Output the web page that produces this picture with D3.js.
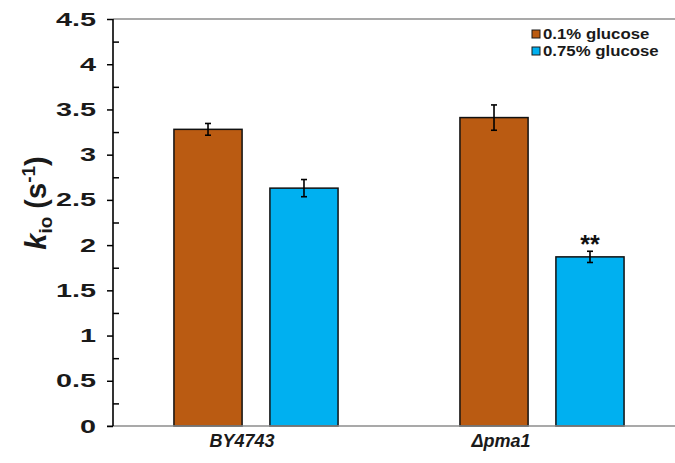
<!DOCTYPE html>
<html>
<head>
<meta charset="utf-8">
<script src="https://cdn.jsdelivr.net/npm/d3@7"></script>
<style>
  html, body { margin: 0; padding: 0; background: #fff; }
  svg { display: block; font-family: Arial, "Liberation Sans", sans-serif; }
</style>
</head>
<body>
<svg id="chart" width="675" height="463"></svg>
<script>
// Strains on the x axis and the two glucose conditions
const strains = ["BY4743", "\u0394pma1"];
const conditions = ["0.1% glucose", "0.75% glucose"];
// k_io means (s^-1) per condition, in strain order
const lowGlucose = [3.28, 3.41];
const highGlucose = [2.63, 1.87];
// Error bar half-widths
const lowGlucoseErr = [0.065, 0.14];
const highGlucoseErr = [0.095, 0.062];
// Significance marks per strain for the 0.75% glucose bars
const highGlucoseSig = ["", "**"];
// Y axis ticks
const yMajorTicks = [0, 0.5, 1, 1.5, 2, 2.5, 3, 3.5, 4, 4.5];
const yMinorTicks = [0.25, 0.75, 1.25, 1.75, 2.25, 2.75, 3.25, 3.75, 4.25];

const colors = ["#BA5B12", "#00B0F0"];

const svg = d3.select("#chart");
const plotLeft = 113, plotTop = 19, plotBottom = 426, plotRight = 685;

const y = d3.scaleLinear().domain([0, 4.5]).range([plotBottom, plotTop]);
const x0 = d3.scaleBand().domain(strains).range([plotLeft, plotRight]).padding(0);
const x1 = d3.scaleBand().domain(conditions).range([0, x0.bandwidth()])
  .paddingInner(0.29).paddingOuter(0.635);

const series = [
  { name: conditions[0], values: lowGlucose, errs: lowGlucoseErr, sig: ["", ""] },
  { name: conditions[1], values: highGlucose, errs: highGlucoseErr, sig: highGlucoseSig }
];

// Top frame line (grey)
svg.append("line").attr("x1", plotLeft).attr("x2", 675).attr("y1", plotTop).attr("y2", plotTop)
  .attr("stroke", "#8c8c8c").attr("stroke-width", 1.5);

// Bars
series.forEach((s, si) => {
  const g = svg.append("g");
  g.selectAll("rect").data(s.values).join("rect")
    .attr("x", (d, i) => x0(strains[i]) + x1(s.name))
    .attr("y", d => y(d))
    .attr("width", x1.bandwidth())
    .attr("height", d => y(0) - y(d))
    .attr("fill", colors[si])
    .attr("stroke", "#111").attr("stroke-width", 1.5);

  // error bars
  s.values.forEach((v, i) => {
    const cx = x0(strains[i]) + x1(s.name) + x1.bandwidth() / 2;
    const e = s.errs[i];
    g.append("line").attr("x1", cx).attr("x2", cx)
      .attr("y1", y(v + e)).attr("y2", y(v - e))
      .attr("stroke", "#000").attr("stroke-width", 1.6);
    [v + e, v - e].forEach(t => {
      g.append("line").attr("x1", cx - 3).attr("x2", cx + 3)
        .attr("y1", y(t)).attr("y2", y(t))
        .attr("stroke", "#000").attr("stroke-width", 1.6);
    });
    if (s.sig[i]) {
      g.append("text").attr("x", cx).attr("y", y(v + e) + 2)
        .attr("text-anchor", "middle").attr("font-weight", "bold")
        .attr("font-size", 25).attr("fill", "#111").text(s.sig[i]);
    }
  });
});

// X axis baseline (grey)
svg.append("line").attr("x1", plotLeft - 6).attr("x2", 675).attr("y1", plotBottom).attr("y2", plotBottom)
  .attr("stroke", "#8c8c8c").attr("stroke-width", 1.5);

// Y axis: major ticks outside, minor ticks inside
const yAxis = d3.axisLeft(y).tickValues(yMajorTicks).tickSize(6).tickFormat("");
const ga = svg.append("g").attr("transform", `translate(${plotLeft},0)`).call(yAxis);
ga.select(".domain").attr("stroke", "#000").attr("stroke-width", 1.6).attr("d", `M0,${plotTop}V${plotBottom}`);
ga.selectAll(".tick line").attr("stroke", "#000").attr("stroke-width", 1.5);

const yMinor = d3.axisRight(y).tickValues(yMinorTicks).tickSize(6).tickFormat("");
const gm = svg.append("g").attr("transform", `translate(${plotLeft},0)`).call(yMinor);
gm.select(".domain").remove();
gm.selectAll(".tick line").attr("stroke", "#000").attr("stroke-width", 1.5);

// Tick labels (wide bold numerals)
const fmt = d3.format("~g");
svg.append("g").selectAll("text").data(yMajorTicks).join("text")
  .attr("transform", d => `translate(96,${y(d) + 6.5}) scale(1.6,1)`)
  .attr("text-anchor", "end").attr("font-weight", "bold").attr("font-size", 18)
  .attr("fill", "#1a1a1a").text(d => fmt(d));

// X category labels
const labelShift = [-14, -41];
svg.append("g").selectAll("text").data(strains).join("text")
  .attr("x", (d, i) => x0(d) + x0.bandwidth() / 2 + labelShift[i])
  .attr("y", 447)
  .attr("text-anchor", "middle").attr("font-weight", "bold").attr("font-style", "italic")
  .attr("font-size", 18).attr("fill", "#1a1a1a").text(d => d);

// Y axis title: k_io (s^-1)
const yt = svg.append("text")
  .attr("transform", "translate(46,203) rotate(-90)")
  .attr("text-anchor", "middle").attr("font-weight", "bold").attr("font-size", 29)
  .attr("fill", "#1a1a1a");
yt.append("tspan").attr("font-style", "italic").text("k");
yt.append("tspan").attr("font-size", 19).attr("dy", 6).text("io");
yt.append("tspan").attr("dy", -6).text(" (s");
yt.append("tspan").attr("font-size", 19).attr("dy", -11).text("-1");
yt.append("tspan").attr("dy", 11).text(")");

// Legend
const legend = svg.append("g");
conditions.forEach((c, i) => {
  const ly = 34 + i * 17;
  legend.append("rect").attr("x", 532).attr("y", ly - 4).attr("width", 8).attr("height", 8)
    .attr("fill", colors[i]).attr("stroke", "#1a1a1a").attr("stroke-width", 1);
  legend.append("text").attr("transform", `translate(543,${ly + 5}) scale(1.2,1)`)
    .attr("font-weight", "bold").attr("font-size", 14).attr("fill", "#1a1a1a").text(c);
});
</script>
</body>
</html>
